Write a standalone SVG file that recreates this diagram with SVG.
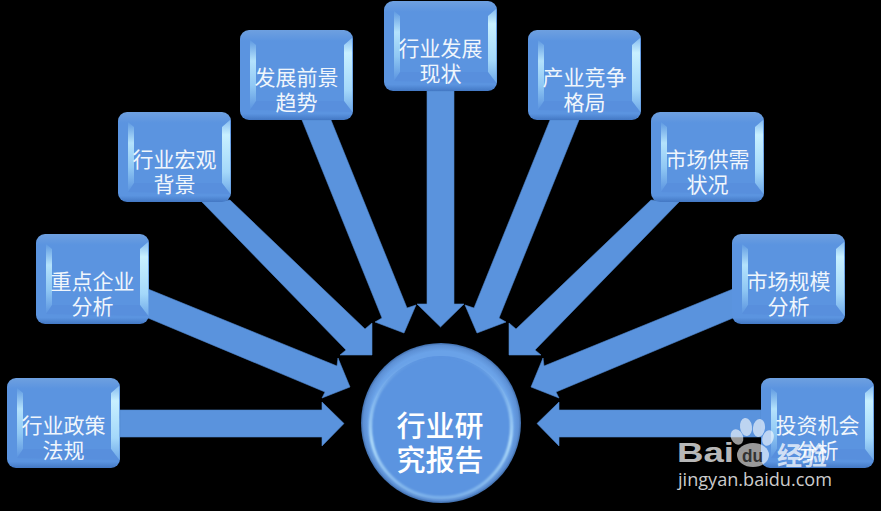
<svg xmlns="http://www.w3.org/2000/svg" xmlns:xlink="http://www.w3.org/1999/xlink" width="881" height="511" viewBox="0 0 881 511">
<style>
.arrow{fill:#5a93dd;stroke:#4f86cf;stroke-width:.6}
.t{font-family:"Noto Sans CJK SC","Noto Sans CJK JP",sans-serif;font-size:21px;font-weight:400;fill:#f0f6fc;text-anchor:middle}
.c{font-family:"Noto Sans CJK SC","Noto Sans CJK JP",sans-serif;font-size:29px;font-weight:500;fill:#fff;text-anchor:middle}
.w{font-family:"Liberation Sans",sans-serif;font-weight:700;fill:#fff;fill-opacity:.74}
</style>
<defs>
<linearGradient id="bo" x1="0" y1="0" x2="0" y2="1"><stop offset="0" stop-color="#6ea0e0"/><stop offset=".12" stop-color="#5b94e0"/><stop offset=".93" stop-color="#5b94e0"/><stop offset="1" stop-color="#4378c4"/></linearGradient>
<linearGradient id="bl" x1="0" y1="0" x2="0" y2="1"><stop offset="0" stop-color="#5f9ae2"/><stop offset=".3" stop-color="#b4e2fc"/><stop offset=".65" stop-color="#90c8f4"/><stop offset="1" stop-color="#5b94e0"/></linearGradient>
<linearGradient id="br" x1="0" y1="0" x2="0" y2="1"><stop offset="0" stop-color="#86bcf0"/><stop offset=".2" stop-color="#c8f0ff"/><stop offset=".7" stop-color="#a4d8fa"/><stop offset="1" stop-color="#6ea8e8"/></linearGradient>
<radialGradient id="co" cx=".5" cy=".5" r=".5"><stop offset=".9" stop-color="#6aa2e8"/><stop offset=".97" stop-color="#5c8fd4"/><stop offset="1" stop-color="#3f6ca8"/></radialGradient>
<linearGradient id="cr" x1="0" y1="0" x2="0" y2="1"><stop offset="0" stop-color="#8fc0f0" stop-opacity="0"/><stop offset=".3" stop-color="#a8d8fa" stop-opacity=".6"/><stop offset=".6" stop-color="#c4ecff"/><stop offset="1" stop-color="#a8d8fa" stop-opacity=".5"/></linearGradient>
<filter id="soft" x="-10%" y="-10%" width="120%" height="120%"><feGaussianBlur stdDeviation="1"/></filter>
<g id="box">
<rect x="0" y="0" width="113" height="90" rx="9" fill="url(#bo)"/>
<polygon points="10,10 16,15 16,71 10,80" fill="url(#bl)"/>
<polygon points="104,15 112,8 112.5,82 104,71" fill="url(#br)"/>
<polygon points="16,71 104,71 112,82 10,80" fill="#5288d6" opacity=".35"/>
</g>
</defs>
<rect width="881" height="511" fill="#000"/>
<g id="connectors">
<polygon class="arrow" points="120,410 322,410 322,402 344,423.5 322,446 322,437 120,437"/>
<polygon class="arrow" points="148,289 337,366 338,358 350,387 322,398 325,392 148,318"/>
<polygon class="arrow" points="202,202 230,200 365,329 372,323 372,355 340,355 346,350"/>
<polygon class="arrow" points="302,120 331,120 407,308 416,305 404,333 375,322 382,318"/>
<polygon class="arrow" points="427,91 454,91 454,304 464,304 440.5,327 417,304 427,304"/>
<polygon class="arrow" points="579,120 550,120 474,308 465,305 477,333 506,322 499,318"/>
<polygon class="arrow" points="679,202 651,200 516,329 509,323 509,355 541,355 535,350"/>
<polygon class="arrow" points="733,289 544,366 543,358 531,387 559,398 556,392 733,318"/>
<polygon class="arrow" points="761,410 559,410 559,402 537,423.5 559,446 559,437 761,437"/>
</g>
<g id="node-1"><use xlink:href="#box" href="#box" x="7" y="378"/><text class="t" x="63.5" y="433">行业政策</text><text class="t" x="63.5" y="458">法规</text></g>
<g id="node-2"><use xlink:href="#box" href="#box" x="36" y="234"/><text class="t" x="92.5" y="289">重点企业</text><text class="t" x="92.5" y="314">分析</text></g>
<g id="node-3"><use xlink:href="#box" href="#box" x="118" y="112"/><text class="t" x="174.5" y="167">行业宏观</text><text class="t" x="174.5" y="192">背景</text></g>
<g id="node-4"><use xlink:href="#box" href="#box" x="240" y="30"/><text class="t" x="296.5" y="85">发展前景</text><text class="t" x="296.5" y="110">趋势</text></g>
<g id="node-5"><use xlink:href="#box" href="#box" x="384" y="1"/><text class="t" x="440.5" y="56">行业发展</text><text class="t" x="440.5" y="81">现状</text></g>
<g id="node-6"><use xlink:href="#box" href="#box" x="528" y="30"/><text class="t" x="584.5" y="85">产业竞争</text><text class="t" x="584.5" y="110">格局</text></g>
<g id="node-7"><use xlink:href="#box" href="#box" x="651" y="112"/><text class="t" x="707.5" y="167">市场供需</text><text class="t" x="707.5" y="192">状况</text></g>
<g id="node-8"><use xlink:href="#box" href="#box" x="732" y="234"/><text class="t" x="788.5" y="289">市场规模</text><text class="t" x="788.5" y="314">分析</text></g>
<g id="node-9"><use xlink:href="#box" href="#box" x="761" y="378"/><text class="t" x="817.5" y="433">投资机会</text><text class="t" x="817.5" y="458">分析</text></g>
<g id="center">
<circle cx="441" cy="423" r="80" fill="url(#co)"/>
<circle cx="441" cy="427" r="71" fill="#5b94e0"/>
<circle cx="441" cy="427" r="70.5" fill="none" stroke="url(#cr)" stroke-width="2.5" filter="url(#soft)"/>
<text class="c" x="440" y="437">行业研</text>
<text class="c" x="440" y="471">究报告</text>
</g>
<g id="watermark">
<g fill="#fff" fill-opacity=".6">
<ellipse cx="737" cy="437" rx="6" ry="8" transform="rotate(-25 737 437)"/>
<ellipse cx="746" cy="427" rx="6" ry="9" transform="rotate(-8 746 427)"/>
<ellipse cx="759" cy="428" rx="6" ry="9" transform="rotate(8 759 428)"/>
<ellipse cx="768" cy="438" rx="5.5" ry="8" transform="rotate(20 768 438)"/>
<ellipse cx="753" cy="455" rx="16" ry="12"/>
</g>
<text class="w" x="677" y="462" font-size="28" textLength="57" lengthAdjust="spacingAndGlyphs">Bai</text>
<text x="742" y="462" font-family="Liberation Sans, sans-serif" font-weight="700" font-size="18" fill="#333" textLength="21" lengthAdjust="spacingAndGlyphs">du</text>
<text class="w" x="777" y="465" font-size="25" style="font-family:'Noto Sans CJK SC',sans-serif">经验</text>
<text x="678" y="486" font-family="Open Sans, sans-serif" font-size="18" fill="#cccccc" textLength="154" lengthAdjust="spacingAndGlyphs">jingyan.baidu.com</text>
</g>
</svg>
